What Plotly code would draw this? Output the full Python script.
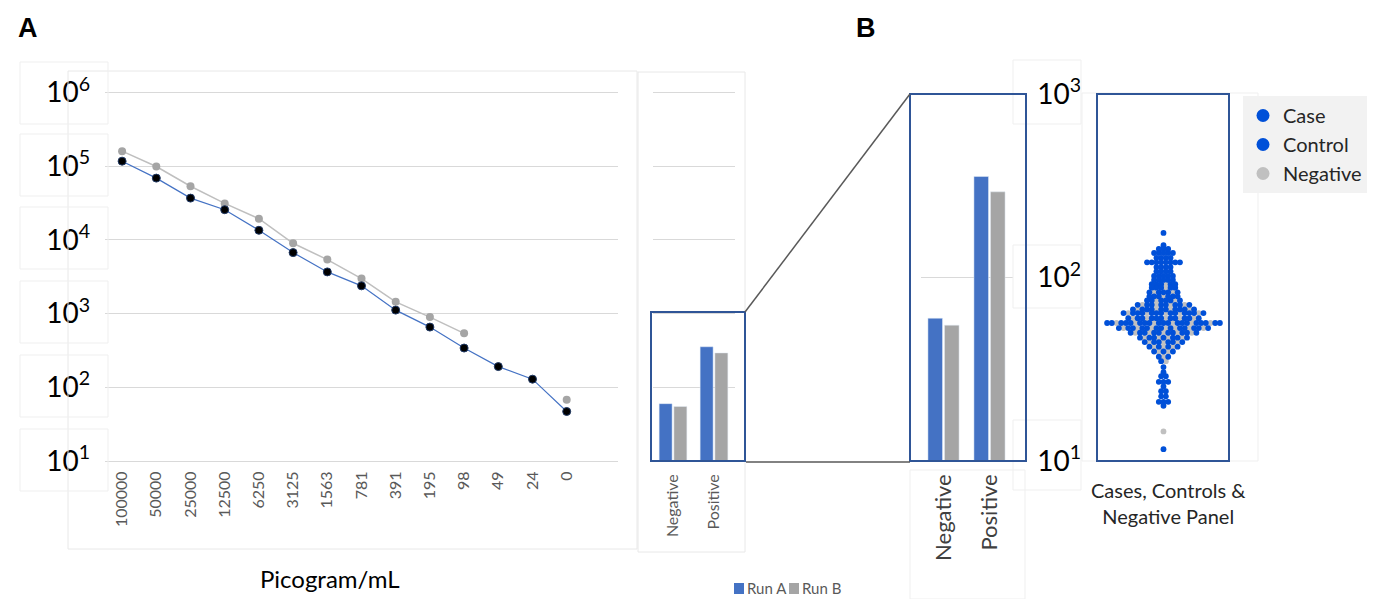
import plotly.graph_objects as go

W, H = 1384, 599


def px(x):
    return x / W


def py(y):
    return 1 - y / H


# ---------------- data ----------------
conc_labels = ["100000", "50000", "25000", "12500", "6250", "3125", "1563",
               "781", "391", "195", "98", "49", "24", "0"]
run_a_line = [117000, 68900, 36900, 25700, 13500, 6730, 3680, 2380, 1115, 656, 341, 191, 129, 47]
run_b_line = [160000, 99000, 53500, 31300, 19400, 9000, 5400, 2990, 1445, 897, 540, None, None, 68]

bar_cats = ["Negative", "Positive"]
run_a_bar = [60, 355]
run_b_bar = [55, 293]

decade_vals_a = [10, 100, 1000, 10000, 100000, 1000000]
decade_text_a = ["10<sup>1</sup>", "10<sup>2</sup>", "10<sup>3</sup>", "10<sup>4</sup>",
                 "10<sup>5</sup>", "10<sup>6</sup>"]
decade_vals_b = [10, 100, 1000]
decade_text_b = ["10<sup>1</sup>", "10<sup>2</sup>", "10<sup>3</sup>"]

# beeswarm: value level (pg/mL) and number of samples per group at that level
bee_values = [175, 150, 143, 136, 128, 121, 114, 108, 102, 97, 92, 88, 83, 79, 75, 71, 67, 64, 60,
              56.5, 53, 50, 47, 44.5, 42, 39.5, 37, 35, 32.5, 30.5, 29, 27, 25.5, 24, 22.5, 21, 20,
              14.5, 11.6]
case_counts = [1, 1, 2, 3, 2, 4, 2, 2, 3, 3, 3, 3, 3, 3, 3, 4, 5, 7, 6,
               10, 7, 5, 4, 3, 2, 2, 1, 1, 1, 0, 1, 2, 1, 1, 1, 2, 1,
               0, 1]
control_counts = [0, 0, 1, 2, 2, 4, 2, 2, 2, 2, 2, 2, 2, 3, 3, 4, 5, 6, 5,
                  9, 6, 5, 3, 3, 2, 1, 1, 0, 0, 1, 1, 1, 0, 1, 1, 1, 0,
                  0, 0]
negative_counts = [0, 0, 0, 0, 0, 0, 0, 0, 0, 0, 1, 1, 2, 1, 2, 4, 4, 5, 5,
                   6, 7, 5, 4, 3, 3, 2, 1, 1, 0, 0, 0, 0, 0, 0, 0, 0, 0,
                   1, 0]

BLUE_BAR = "#4472C4"
GRAY_BAR = "#A5A5A5"
DOT_BLUE = "#0050D8"
DOT_GRAY = "#C0C0C0"
BOX_BLUE = "#2F5597"
GRID = "#D9D9D9"
FONT = "Lato"

fig = go.Figure()

# ---------------- panel A: dilution series ----------------
fig.add_trace(go.Scatter(
    x=conc_labels, y=run_b_line, mode="lines+markers", name="Run B",
    line=dict(color="#BFBFBF", width=1.5),
    marker=dict(color=GRAY_BAR, size=8),
    connectgaps=False, showlegend=False, xaxis="x", yaxis="y"))
fig.add_trace(go.Scatter(
    x=conc_labels, y=run_a_line, mode="lines+markers", name="Run A",
    line=dict(color=BLUE_BAR, width=1.2),
    marker=dict(color="black", size=8, line=dict(color="#1F3864", width=1)),
    showlegend=False, xaxis="x", yaxis="y"))

# ---------------- small bar chart ----------------
fig.add_trace(go.Bar(x=bar_cats, y=run_a_bar, name="Run A", marker_color=BLUE_BAR,
                     xaxis="x2", yaxis="y2", showlegend=False))
fig.add_trace(go.Bar(x=bar_cats, y=run_b_bar, name="Run B", marker_color=GRAY_BAR,
                     xaxis="x2", yaxis="y2", showlegend=False))

# ---------------- zoomed bar chart ----------------
fig.add_trace(go.Bar(x=bar_cats, y=run_a_bar, name="Run A", marker_color=BLUE_BAR,
                     xaxis="x3", yaxis="y3", showlegend=False))
fig.add_trace(go.Bar(x=bar_cats, y=run_b_bar, name="Run B", marker_color=GRAY_BAR,
                     xaxis="x3", yaxis="y3", showlegend=False))

# ---------------- panel B: beeswarm ----------------
spacing = 4.7
groups = {"Case": ([], []), "Control": ([], []), "Negative": ([], [])}
for v, nc, nk, ng in zip(bee_values, case_counts, control_counts, negative_counts):
    n = nc + nk + ng
    labels = [None] * n
    for k in range(ng):
        idx = min(n - 1, int((k + 0.5) * n / ng))
        while labels[idx] is not None:
            idx = (idx + 1) % n
        labels[idx] = "Negative"
    toggle = 0
    rc, rk = nc, nk
    for i in range(n):
        if labels[i] is None:
            if (toggle == 0 and rc > 0) or rk == 0:
                labels[i] = "Case"
                rc -= 1
            else:
                labels[i] = "Control"
                rk -= 1
            toggle = 1 - toggle
    for i, lab in enumerate(labels):
        groups[lab][0].append((i - (n - 1) / 2) * spacing)
        groups[lab][1].append(v)

for name, col in [("Negative", DOT_GRAY), ("Control", DOT_BLUE), ("Case", DOT_BLUE)]:
    xs, ys = groups[name]
    fig.add_trace(go.Scatter(x=xs, y=ys, mode="markers", name=name,
                             marker=dict(color=col, size=5.8),
                             showlegend=False, xaxis="x4", yaxis="y4"))
for name, col in [("Case", DOT_BLUE), ("Control", DOT_BLUE), ("Negative", DOT_GRAY)]:
    fig.add_trace(go.Scatter(x=[None], y=[None], mode="markers", name=name,
                             marker=dict(color=col, size=13),
                             showlegend=True, xaxis="x4", yaxis="y4"))

# ---------------- shapes ----------------
shapes = []


def rect(x0, y0, x1, y1, color, width=1, fill="rgba(0,0,0,0)"):
    shapes.append(dict(type="rect", xref="paper", yref="paper",
                       x0=px(x0), x1=px(x1), y0=py(y0), y1=py(y1),
                       line=dict(color=color, width=width), fillcolor=fill,
                       layer="above"))


def line(x0, y0, x1, y1, color, width=1):
    shapes.append(dict(type="line", xref="paper", yref="paper",
                       x0=px(x0), x1=px(x1), y0=py(y0), y1=py(y1),
                       line=dict(color=color, width=width), layer="above"))


FAINT = "#E8E8E8"
rect(68, 71, 637, 549, FAINT)
rect(638, 72, 745, 552, FAINT)
for c in [94, 166, 239, 313, 387, 461]:
    rect(20, c - 32, 108, c + 30, "#EFEFEF")
rect(1013, 60, 1081, 124, "#EFEFEF")
rect(1013, 245, 1081, 308, "#EFEFEF")
rect(1013, 420, 1081, 490, "#EFEFEF")
rect(1082, 93, 1258, 461, "#EFEFEF")
rect(910, 470, 1025, 599, "#EFEFEF")

rect(651, 312, 745, 461, BOX_BLUE, 2)
rect(910, 94, 1026, 461, BOX_BLUE, 2)
rect(1097, 94, 1229, 461, BOX_BLUE, 2)
line(745, 312, 910, 94, "#595959", 1.5)
line(746, 462, 910, 462, "#595959", 1.5)

# legend keys for Run A / Run B (bar colours)
rect(734, 583, 744, 594, BLUE_BAR, 0, BLUE_BAR)
rect(789, 583, 799, 594, GRAY_BAR, 0, GRAY_BAR)


def ann(text, x, y, size, color="black", family=FONT, xanchor="center"):
    return dict(text=text, x=px(x), y=py(y), xref="paper", yref="paper", showarrow=False,
                xanchor=xanchor, yanchor="middle",
                font=dict(family=family, size=size, color=color))


annotations = [
    ann("<b>A</b>", 28, 28, 27, family="Liberation Sans"),
    ann("<b>B</b>", 866, 28, 27, family="Liberation Sans"),
    ann("Picogram/mL", 330, 578, 24),
    ann("Cases, Controls &amp;<br>Negative Panel", 1168, 503, 20, "#262626"),
    ann("Run A", 745, 588, 15, "#595959", xanchor="left"),
    ann("Run B", 800, 588, 15, "#595959", xanchor="left"),
]

big_tick = dict(family=FONT, size=28, color="black")

fig.update_layout(
    width=W, height=H, autosize=False,
    margin=dict(l=0, r=0, t=0, b=0, autoexpand=False),
    paper_bgcolor="white", plot_bgcolor="white",
    barmode="group", bargap=0.28, bargroupgap=0.12,
    shapes=shapes, annotations=annotations,
    xaxis=dict(domain=[px(105), px(618)], type="category", range=[-0.5, 14.5],
               tickangle=-90, tickfont=dict(family=FONT, size=16, color="#595959"),
               showgrid=False, showline=True, linecolor=GRID, ticks="", anchor="y",
               ticklabelstandoff=3, automargin=False),
    yaxis=dict(domain=[py(461), py(71)], type="log", range=[1, 1 + (461 - 71) / 73.7],
               tickvals=decade_vals_a, ticktext=decade_text_a, tickfont=big_tick,
               gridcolor=GRID, ticks="", ticklabelstandoff=14, showline=False,
               zeroline=False, anchor="x", automargin=False),
    xaxis2=dict(domain=[px(652.5), px(734.5)], type="category", tickangle=-90,
                tickfont=dict(family=FONT, size=16, color="#595959"),
                showgrid=False, ticks="", anchor="y2", ticklabelstandoff=9,
                automargin=False),
    yaxis2=dict(domain=[py(461), py(71)], type="log", range=[1, 1 + (461 - 71) / 73.7],
                tickvals=decade_vals_a, showticklabels=False, gridcolor=GRID,
                zeroline=False, anchor="x2", automargin=False),
    xaxis3=dict(domain=[px(920.5), px(1012.5)], type="category", tickangle=-90,
                tickfont=dict(family=FONT, size=22, color="#404040"),
                showgrid=False, ticks="", anchor="y3", ticklabelstandoff=8,
                automargin=False),
    yaxis3=dict(domain=[py(461), py(94)], type="log", range=[1, 3],
                tickvals=[100], showticklabels=False, gridcolor=GRID,
                zeroline=False, anchor="x3", automargin=False),
    xaxis4=dict(domain=[px(1098), px(1229)], range=[-65.5, 65.5], visible=False,
                anchor="y4", automargin=False),
    yaxis4=dict(domain=[py(461), py(94)], type="log", range=[1, 3],
                tickvals=decade_vals_b, ticktext=decade_text_b, tickfont=big_tick,
                showgrid=False, ticks="", ticklabelstandoff=16, zeroline=False,
                anchor="x4", automargin=False),
    legend=dict(x=px(1243), y=py(96), xanchor="left", yanchor="top",
                bgcolor="#F2F2F2", font=dict(family=FONT, size=20, color="#262626"),
                itemclick=False, itemwidth=30),
)

fig.write_html("out.html", config={"displayModeBar": False},
               post_script="document.body.style.margin='0';")
